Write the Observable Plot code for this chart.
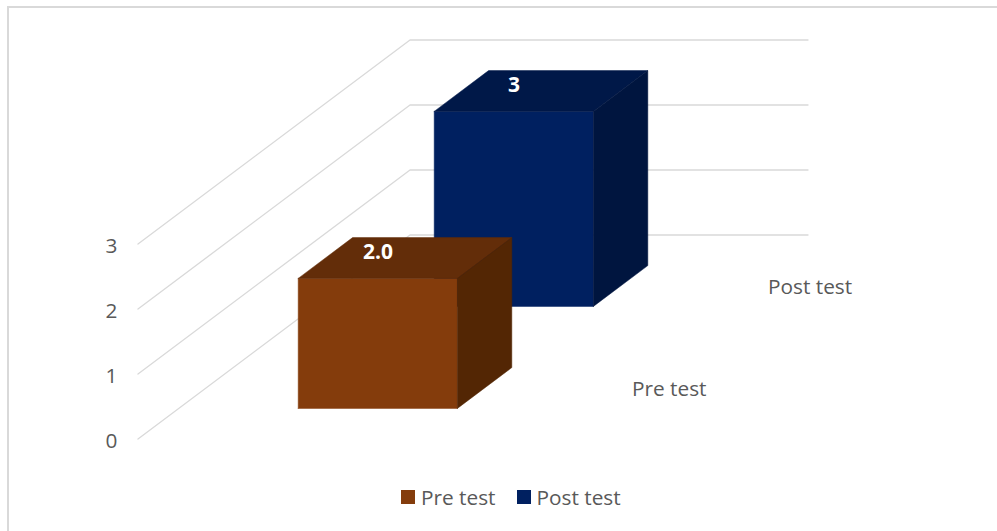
<!DOCTYPE html>
<html>
<head>
<meta charset="utf-8">
<script src="https://cdn.jsdelivr.net/npm/d3@7"></script>
<script src="https://cdn.jsdelivr.net/npm/@observablehq/plot@0.6"></script>
<style>
  html, body { margin: 0; background: #fff; overflow: hidden; }
  body { font-family: "Open Sans", sans-serif; color: #595959; }
  #frame { position: fixed; left: 7px; top: 6px; right: 0; bottom: 0;
           border-left: 2px solid #d9d9d9; border-top: 2px solid #d9d9d9; pointer-events: none; }
  #legend { display: flex; align-items: center; margin-left: 401px; height: 34px; font-size: 20.8px; }
  #legend .swatch { width: 14px; height: 14px; margin-right: 6px; }
  #legend .entry { display: flex; align-items: center; margin-right: 21px; }
  svg { display: block; }
</style>
</head>
<body>
<div id="frame"></div>
<div id="chart"></div>
<div id="legend"></div>
<script>
// Chart values
const categories = ["Pre test", "Post test"];
const values = [2.0, 3];
const valueLabels = ["2.0", "3"];
const axisTicks = [0, 1, 2, 3];

// Face colours per category
const frontColors = ["#843c0c", "#002060"];
const topColors = ["#632d09", "#001848"];
const sideColors = ["#532604", "#00153f"];

// Oblique 3D set-up: u runs across the floor, d runs into the depth (one unit per category)
const shearX = 136 / 398;   // plane-x gained per unit of depth
const shearY = 102 / 65;    // plane-y gained per unit of depth
const barStartU = 0.3, barEndU = 0.7;
const barStartD = 0.3, barEndD = 0.7;
const project = (u, d, v) => ({x: u + d * shearX, y: v + d * shearY});

// Closed polygon helper: list of [u, d, v] corners
const polygon = (corners) => [...corners, corners[0]].map(([u, d, v]) => project(u, d, v));

const poly = (corners, fill) =>
  Plot.line(polygon(corners), {x: "x", y: "y", fill, stroke: fill, strokeWidth: 0.5, curve: "linear"});

// Walls: one polyline per axis tick, along the side wall and then across the back wall
const depthMax = categories.length;
const gridMarks = axisTicks.map((v) =>
  Plot.line(
    [[0, 0, v], [0, depthMax, v], [1, depthMax, v]].map(([u, d, w]) => project(u, d, w)),
    {x: "x", y: "y", stroke: "#d9d9d9", strokeWidth: 1.3}
  )
);

// Bars run back to front so the nearer one covers the farther one
const barMarks = d3.range(categories.length - 1, -1, -1).flatMap((i) => {
  const d0 = i + barStartD, d1 = i + barEndD, h = values[i];
  const u0 = barStartU, u1 = barEndU;
  return [
    poly([[u0, d0, 0], [u1, d0, 0], [u1, d0, h], [u0, d0, h]], frontColors[i]),
    poly([[u0, d0, h], [u1, d0, h], [u1, d1, h], [u0, d1, h]], topColors[i]),
    poly([[u1, d0, 0], [u1, d1, 0], [u1, d1, h], [u1, d0, h]], sideColors[i])
  ];
});

const valueText = categories.map((c, i) => ({...project(0.4115, i + 0.56, values[i]), label: valueLabels[i]}));
const categoryText = categories.map((c, i) => ({...project(1, i + 0.706, -0.34), label: c}));

const plot = Plot.plot({
  width: 997,
  height: 480,
  marginLeft: 138,
  marginTop: 0,
  marginRight: 0,
  marginBottom: 0,
  style: {fontFamily: "'Open Sans', sans-serif", background: "transparent", overflow: "visible"},
  x: {domain: [0, 1], range: [137.5, 535.5], axis: null},
  y: {domain: [0, 3], range: [438.5, 243.5], axis: null},
  marks: [
    ...gridMarks,
    ...barMarks,
    Plot.axisY({
      anchor: "left", ticks: axisTicks, tickSize: 0, tickPadding: 21, dy: 2,
      tickFormat: (d) => String(d), label: null, fontSize: 20.8, fill: "#595959"
    }),
    Plot.text(valueText, {x: "x", y: "y", text: "label", fill: "#fff", fontWeight: 700, fontSize: 21}),
    Plot.text(categoryText, {x: "x", y: "y", text: "label", textAnchor: "start", fill: "#595959", fontSize: 20.8})
  ]
});
document.getElementById("chart").append(plot);

// Legend below the plot
const legend = d3.select("#legend");
categories.forEach((c, i) => {
  const entry = legend.append("div").attr("class", "entry");
  entry.append("div").attr("class", "swatch").style("background", frontColors[i]);
  entry.append("span").text(c);
});
</script>
</body>
</html>
